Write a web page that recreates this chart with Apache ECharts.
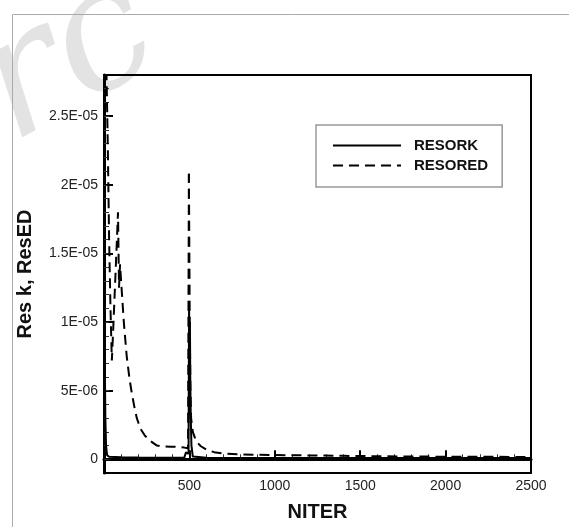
<!DOCTYPE html>
<html>
<head>
<meta charset="utf-8">
<script src="https://cdn.jsdelivr.net/npm/echarts@6/dist/echarts.min.js"></script>
<style>
html,body{margin:0;padding:0;background:#fff;}
#chart{width:569px;height:527px;}
</style>
</head>
<body>
<div id="chart"></div>
<script>
// ---- data ----
const seriesNames = ['RESORK', 'RESORED'];

const resorkIter = [0, 4, 8, 12, 18, 30, 100, 200, 300, 400, 470, 480, 490, 495, 498, 501, 503, 505, 508, 512, 520, 600, 1000, 1500, 2000, 2500];
const resorkVal  = [1.25e-5, 8e-6, 3e-6, 1e-6, 3e-7, 1.8e-7, 1.5e-7, 1.3e-7, 1.2e-7, 1.1e-7, 1.2e-7, 5e-7, 6e-7, 4e-7, 1.1e-5, 8e-6, 1.0e-5, 6e-6, 3e-6, 1e-6, 2e-7, 1.2e-7, 1.0e-7, 9e-8, 9e-8, 9e-8];

const resoredIter = [0, 14, 22, 30, 38, 46, 54, 64, 74, 82, 88, 94, 100, 108, 116, 133, 150, 163, 178, 192, 215, 241, 275, 310, 350, 390, 430, 470, 492, 497, 502, 506, 510, 520, 540, 567, 600, 645, 700, 800, 900, 1000, 1200, 1400, 1600, 1800, 2000, 2200, 2500];
const resoredVal  = [4.0e-5, 2.85e-5, 2.3e-5, 1.6e-5, 1.1e-5, 7.2e-6, 9.5e-6, 1.25e-5, 1.55e-5, 1.8e-5, 1.25e-5, 1.42e-5, 1.3e-5, 1.15e-5, 1.0e-5, 7.5e-6, 5.8e-6, 4.8e-6, 3.8e-6, 3.0e-6, 2.2e-6, 1.7e-6, 1.3e-6, 1.0e-6, 9.3e-7, 9.2e-7, 9.0e-7, 8.5e-7, 8.0e-7, 2.08e-5, 1.0e-5, 5.0e-6, 3.0e-6, 2.0e-6, 1.3e-6, 9.5e-7, 7.0e-7, 5.2e-7, 4.2e-7, 3.6e-7, 3.3e-7, 3.1e-7, 2.8e-7, 2.5e-7, 2.2e-7, 2.0e-7, 1.9e-7, 1.8e-7, 1.7e-7];

const xTickValues = [500, 1000, 1500, 2000, 2500];
const xTickLabels = ['500', '1000', '1500', '2000', '2500'];
const yTickValues = [0, 5e-6, 1e-5, 1.5e-5, 2e-5, 2.5e-5];
const yTickLabels = ['0', '5E-06', '1E-05', '1.5E-05', '2E-05', '2.5E-05'];
const yMinorTickValues = [];
for (let k = 0; k <= 27; k++) yMinorTickValues.push(k * 1e-6);

const xAxisTitle = 'NITER';
const yAxisTitle = 'Res k, ResED';

// ---- chart ----
const FONT = '"Liberation Sans", Arial, sans-serif';
const DASH = [10, 6];
const chart = echarts.init(document.getElementById('chart'), null, {renderer: 'canvas'});

function pair(xs, ys) { return xs.map((x, i) => [x, ys[i]]); }
function yLabel(v) {
  for (let i = 0; i < yTickValues.length; i++) {
    if (Math.abs(v - yTickValues[i]) < 1e-9) return yTickLabels[i];
  }
  return '';
}
function xLabel(v) {
  const i = xTickValues.indexOf(Math.round(v));
  return i >= 0 ? xTickLabels[i] : '';
}

// split the dashed series at its second spike so the up and down strokes share dash phase
const edPts = pair(resoredIter, resoredVal);
let peakIdx = 0;
for (let i = 0; i < edPts.length; i++) if (edPts[i][0] > 400 && (peakIdx === 0 || edPts[i][1] > edPts[peakIdx][1])) peakIdx = i;
const edPart1 = edPts.slice(0, peakIdx + 1);
const edPart2 = edPts.slice(peakIdx);

const lineBase = { type: 'line', yAxisIndex: 0, showSymbol: false, symbol: 'none', clip: true, itemStyle: { color: '#000' } };

const option = {
  animation: false,
  backgroundColor: '#fff',
  graphic: [
    { type: 'text', x: 68, y: 62, rotation: 0.5, z: -10,
      style: { text: 'rc', font: 'italic 170px "DejaVu Serif"', fill: '#e3e3e3', textAlign: 'center', textVerticalAlign: 'middle' } },
    { type: 'rect', z: -5, shape: { x: 12.5, y: 14.5, width: 700, height: 700 },
      style: { fill: 'none', stroke: '#aaa', lineWidth: 1 } }
  ],
  grid: { left: 104, top: 75, right: 38, bottom: 51, show: true, borderColor: '#000', borderWidth: 2, backgroundColor: 'transparent' },
  legend: {
    left: 316, top: 125, orient: 'vertical',
    itemWidth: 68, itemHeight: 14, itemGap: 5,
    padding: [13, 14, 14, 16],
    borderColor: '#999', borderWidth: 1.5,
    backgroundColor: '#fff',
    itemStyle: { opacity: 0 },
    textStyle: { fontFamily: FONT, fontWeight: 'bold', fontSize: 15, color: '#111', padding: [0, 0, 0, 8] },
    data: seriesNames
  },
  xAxis: {
    type: 'value', min: 0, max: 2500, interval: 500,
    name: xAxisTitle, nameLocation: 'middle', nameGap: 29,
    nameTextStyle: { fontFamily: FONT, fontWeight: 'bold', fontSize: 20, color: '#111' },
    axisLine: { show: true, lineStyle: { color: '#000', width: 3 } },
    axisTick: { show: true, inside: true, length: 9, lineStyle: { color: '#000', width: 2 } },
    minorTick: { show: true, splitNumber: 5, length: 5, lineStyle: { color: '#333', width: 1 } },
    axisLabel: { margin: 6, fontFamily: FONT, fontSize: 14, color: '#222', formatter: xLabel, showMinLabel: false },
    splitLine: { show: false }
  },
  yAxis: [
    {
      type: 'value', min: -1e-6, max: 2.8e-5, position: 'left',
      name: yAxisTitle, nameLocation: 'middle', nameGap: 69,
      nameTextStyle: { fontFamily: FONT, fontWeight: 'bold', fontSize: 20, color: '#111' },
      axisLine: { show: true, lineStyle: { color: '#000', width: 3 } },
      axisTick: { show: true, inside: true, length: 9, customValues: yTickValues, lineStyle: { color: '#000', width: 2 } },
      axisLabel: { margin: 6, fontFamily: FONT, fontSize: 14, color: '#222', customValues: yTickValues, formatter: yLabel },
      splitLine: { show: false }
    },
    {
      type: 'value', min: -1e-6, max: 2.8e-5, position: 'left', offset: 0,
      axisLine: { show: false },
      axisTick: { show: true, inside: true, length: 5, customValues: yMinorTickValues, lineStyle: { color: '#333', width: 1 } },
      axisLabel: { show: false },
      splitLine: { show: false }
    }
  ],
  series: [
    Object.assign({}, lineBase, { name: seriesNames[0], data: pair(resorkIter, resorkVal), lineStyle: { color: '#000', width: 2, type: 'solid' } }),
    Object.assign({}, lineBase, { name: seriesNames[1], data: edPart1, lineStyle: { color: '#000', width: 2, type: DASH } }),
    Object.assign({}, lineBase, { name: seriesNames[1], data: edPart2, lineStyle: { color: '#000', width: 2, type: DASH, dashOffset: 0 } })
  ]
};
chart.setOption(option);

// align dash phase of the down stroke with the up stroke
(function () {
  let S = 0, prev = null;
  edPart1.forEach(p => {
    const px = chart.convertToPixel({ xAxisIndex: 0, yAxisIndex: 0 }, p);
    if (prev) S += Math.hypot(px[0] - prev[0], px[1] - prev[1]);
    prev = px;
  });
  const period = DASH[0] + DASH[1];
  const off = (((-(S + DASH[1])) % period) + period) % period;
  chart.setOption({ series: [{}, {}, { lineStyle: { dashOffset: off } }] });
})();
</script>
</body>
</html>
